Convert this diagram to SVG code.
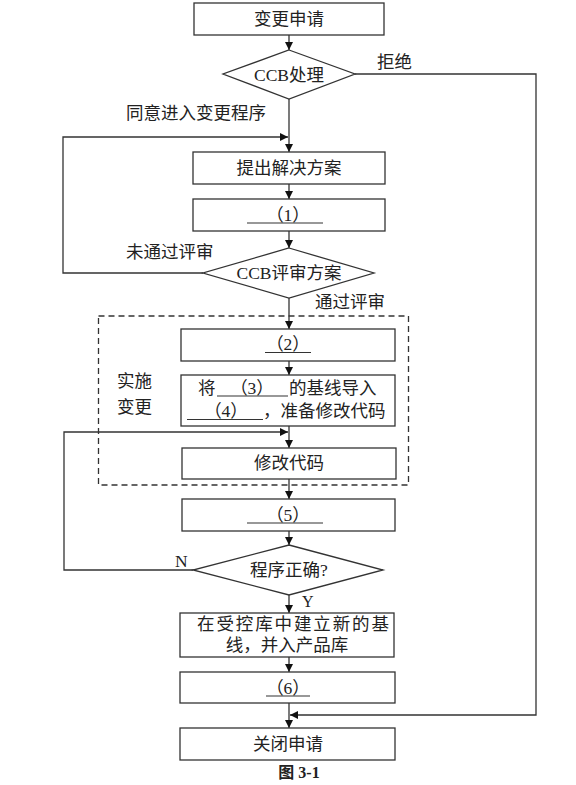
<svg xmlns="http://www.w3.org/2000/svg" width="576" height="785" viewBox="0 0 576 785">
<style>
.box{fill:#fff;stroke:#333;stroke-width:1.3}
.ln{fill:none;stroke:#333;stroke-width:1.3}
.ul{stroke:#333;stroke-width:1.2}
text{font-family:"Liberation Serif","Noto Sans CJK SC",serif;font-size:17.5px;fill:#222}
.c{text-anchor:middle}
</style>
<defs>
<marker id="ah" viewBox="0 0 10 10" refX="10" refY="5" markerWidth="8" markerHeight="8" markerUnits="userSpaceOnUse" orient="auto">
<path d="M0,0 L10,5 L0,10 z" fill="#111"/>
</marker>
</defs>
<rect width="576" height="785" fill="#fff"/>
<g id="connectors">
<line class="ln" x1="289" y1="35" x2="289" y2="50" marker-end="url(#ah)"/>
<line class="ln" x1="289" y1="99" x2="289" y2="152" marker-end="url(#ah)"/>
<polyline class="ln" points="203,273 63,273 63,137 288,137" marker-end="url(#ah)"/>
<line class="ln" x1="289" y1="184" x2="289" y2="199" marker-end="url(#ah)"/>
<line class="ln" x1="289" y1="231" x2="289" y2="248" marker-end="url(#ah)"/>
<line class="ln" x1="289" y1="298" x2="289" y2="329" marker-end="url(#ah)"/>
<line class="ln" x1="289" y1="361" x2="289" y2="375" marker-end="url(#ah)"/>
<line class="ln" x1="289" y1="426" x2="289" y2="448" marker-end="url(#ah)"/>
<polyline class="ln" points="193,570 64,570 64,432 288,432" marker-end="url(#ah)"/>
<line class="ln" x1="289" y1="479" x2="289" y2="499" marker-end="url(#ah)"/>
<line class="ln" x1="289" y1="531" x2="289" y2="545" marker-end="url(#ah)"/>
<line class="ln" x1="289" y1="595" x2="289" y2="613" marker-end="url(#ah)"/>
<line class="ln" x1="289" y1="657" x2="289" y2="672" marker-end="url(#ah)"/>
<line class="ln" x1="289" y1="703" x2="289" y2="728" marker-end="url(#ah)"/>
<polyline class="ln" points="355,74 536,74 536,715 290,715" marker-end="url(#ah)"/>
<text x="377" y="68">拒绝</text>
<text x="126" y="119">同意进入变更程序</text>
<text x="126" y="258">未通过评审</text>
<text x="315" y="308">通过评审</text>
<text x="175" y="567">N</text>
<text x="302" y="607" style="font-size:16px">Y</text>
</g>
<g id="group-impl">
<rect x="98.5" y="316" width="310" height="169" fill="none" stroke="#333" stroke-width="1.3" stroke-dasharray="6,4"/>
<text x="117" y="387">实施</text>
<text x="117" y="413">变更</text>
</g>
<g id="n1"><rect class="box" x="194" y="3" width="190" height="32"/><text class="c" x="289" y="25">变更申请</text></g>
<g id="n2"><polygon class="box" points="289,50 355,74 289,99 223,74"/><text class="c" x="289" y="81">CCB处理</text></g>
<g id="n3"><rect class="box" x="193" y="152" width="192" height="32"/><text class="c" x="289" y="174">提出解决方案</text></g>
<g id="n4"><rect class="box" x="193" y="199" width="192" height="32"/><text class="c" x="288" y="221">（1）</text><line class="ul" x1="247" y1="223" x2="323" y2="223"/></g>
<g id="n5"><polygon class="box" points="289,248 374,273 289,298 203,273"/><text class="c" x="289" y="279">CCB评审方案</text></g>
<g id="n6"><rect class="box" x="181" y="329" width="214" height="32"/><text class="c" x="288" y="350">（2）</text><line class="ul" x1="265" y1="352.5" x2="311" y2="352.5"/></g>
<g id="n7"><rect class="box" x="181" y="375" width="214" height="51"/>
<text x="198" y="394">将</text><text class="c" x="252" y="394">（3）</text><text x="289" y="394">的基线导入</text>
<line class="ul" x1="217" y1="396" x2="288" y2="396"/>
<text class="c" x="226" y="417">（4）</text><text x="263" y="417">，准备修改代码</text>
<line class="ul" x1="187" y1="419.5" x2="263" y2="419.5"/></g>
<g id="n8"><rect class="box" x="182" y="448" width="214" height="31"/><text class="c" x="289" y="469">修改代码</text></g>
<g id="n9"><rect class="box" x="182" y="499" width="213" height="32"/><text class="c" x="288" y="521">（5）</text><line class="ul" x1="247" y1="523" x2="323" y2="523"/></g>
<g id="n10"><polygon class="box" points="289,545 383,570 289,595 193,570"/><text class="c" x="289" y="576">程序正确?</text></g>
<g id="n11"><rect class="box" x="180" y="613" width="214" height="44"/><text x="197" y="630" textLength="192" lengthAdjust="spacing">在受控库中建立新的基</text><text class="c" x="287" y="651">线，并入产品库</text></g>
<g id="n12"><rect class="box" x="180" y="672" width="215" height="31"/><text class="c" x="288" y="694">（6）</text><line class="ul" x1="266" y1="696" x2="310" y2="696"/></g>
<g id="n13"><rect class="box" x="180" y="728" width="215" height="32"/><text class="c" x="288" y="750">关闭申请</text></g>
<text class="c" x="299" y="778" style="font-weight:bold;font-size:16px">图 3-1</text>
</svg>
